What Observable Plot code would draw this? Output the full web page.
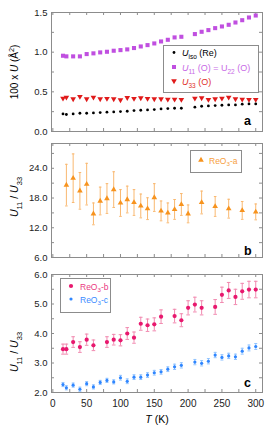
<!DOCTYPE html>
<html><head><meta charset="utf-8">
<script src="https://cdn.jsdelivr.net/npm/d3@7"></script>
<script src="https://cdn.jsdelivr.net/npm/@observablehq/plot@0.6"></script>
<style>
body{margin:0;background:#fff;}
#chart{position:relative;width:268px;height:428px;overflow:hidden;background:#fff}
#chart svg{position:absolute;left:0}
</style></head><body><div id="chart"></div>
<script>
// ---- Panel a: 100 x U (Å²) ----
const T_a = [15,20,30,40,50,60,70,80,90,100,110,120,130,140,150,160,170,180,190,210,220,230,240,250,260,270,280,290,300];
const Uiso = [0.222,0.214,0.222,0.230,0.230,0.234,0.238,0.243,0.247,0.251,0.255,0.264,0.268,0.272,0.276,0.285,0.289,0.293,0.293,0.306,0.318,0.323,0.327,0.331,0.335,0.335,0.344,0.348,0.348];
const U11 = [0.955,0.947,0.947,0.947,0.976,0.985,0.997,1.005,1.018,1.026,1.035,1.052,1.072,1.089,1.110,1.135,1.156,1.186,1.194,1.228,1.257,1.278,1.303,1.324,1.345,1.374,1.403,1.437,1.462];
const U33 = [0.419,0.431,0.410,0.440,0.410,0.431,0.410,0.415,0.410,0.398,0.427,0.415,0.423,0.415,0.410,0.410,0.406,0.406,0.402,0.419,0.423,0.402,0.410,0.419,0.431,0.410,0.406,0.402,0.402];

// ---- Panel b: ReO3-a ----
const T_b = [20,30,40,50,60,70,80,90,100,110,120,130,140,150,160,170,180,190,200,220,240,260,280,300];
const ratioA = [20.6,22.0,19.45,20.8,14.8,17.4,17.9,19.7,17.0,17.7,17.1,16.4,15.85,18.1,15.4,15.0,15.7,16.7,14.8,17.1,16.3,15.85,15.5,15.2];
const errA = [4.2,4.9,3.7,4.2,2.2,2.8,3.0,3.6,2.7,2.7,2.6,2.4,2.2,2.8,2.0,2.0,2.0,2.2,1.8,2.3,2.0,1.9,1.8,1.6];

// ---- Panel c: ReO3-b and ReO3-c ----
const T_cb = [15,20,30,40,50,60,80,90,100,110,120,130,140,150,160,180,190,200,210,220,240,250,260,270,280,290,300];
const ratioB = [3.47,3.47,3.71,3.54,3.79,3.60,3.71,3.79,3.77,4.00,3.86,4.33,4.28,4.31,4.57,4.59,4.45,4.87,4.98,4.87,4.90,5.31,5.46,5.24,5.43,5.49,5.49];
const errB = [0.17,0.17,0.18,0.18,0.19,0.18,0.18,0.18,0.19,0.20,0.19,0.22,0.21,0.22,0.23,0.23,0.22,0.24,0.25,0.24,0.25,0.26,0.27,0.26,0.27,0.28,0.28];
const T_cc = [15,20,30,40,50,60,70,80,90,100,110,120,130,140,150,160,170,180,190,210,220,230,240,250,260,270,280,290,300];
const ratioC = [2.27,2.16,2.25,2.11,2.30,2.19,2.34,2.41,2.36,2.50,2.38,2.52,2.52,2.59,2.67,2.70,2.79,2.87,2.92,3.03,2.99,3.06,3.27,3.19,3.24,3.21,3.40,3.51,3.56];
const errC = [0.07,0.07,0.07,0.07,0.07,0.07,0.07,0.07,0.07,0.08,0.08,0.08,0.08,0.08,0.08,0.08,0.08,0.09,0.09,0.09,0.09,0.09,0.09,0.09,0.09,0.09,0.10,0.10,0.10];

const xTickLabels = [0,50,100,150,200,250,300];

const FONT = '"Liberation Sans", Arial, Helvetica, sans-serif';
const W = 268, ML = 51, MR = 6;
const X_DOMAIN = [-2, 310];
const GRAY = "#8c8c8c";
const C = {purple:"#c04fe0", red:"#e01a1a", orange:"#f7931e", orangeBar:"#f9b870",
           pink:"#e8186e", pinkBar:"#f18ab0", blue:"#2f86ff", blueBar:"#92c4ff"};

const dataA = T_a.map((T,i)=>({T, uiso:Uiso[i], u11:U11[i], u33:U33[i]}));
const dataB = T_b.map((T,i)=>({T, v:ratioA[i], e:errA[i]}));
const dataCb = T_cb.map((T,i)=>({T, v:ratioB[i], e:errB[i]}));
const dataCc = T_cc.map((T,i)=>({T, v:ratioC[i], e:errC[i]}));

const cap = {draw(ctx, size){const r=Math.sqrt(size/Math.PI); ctx.moveTo(-r,0); ctx.lineTo(r,0);}};

function frameMarks(yTicks, plotH){
  const plotW = W-ML-MR;
  const xt = d3.range(0,301,25);
  return [
    Plot.tickX(xt,{x:d=>d, stroke:GRAY, insetBottom:plotH-3}),
    Plot.tickX(xt,{x:d=>d, stroke:GRAY, insetTop:plotH-3}),
    Plot.tickY(yTicks,{y:d=>d, stroke:GRAY, insetRight:plotW-3}),
    Plot.tickY(yTicks,{y:d=>d, stroke:GRAY, insetLeft:plotW-3}),
    Plot.frame({stroke:GRAY})
  ];
}
function errMarks(data, bar, capR){
  return [
    Plot.ruleX(data,{x:"T", y1:d=>d.v-d.e, y2:d=>d.v+d.e, stroke:bar, strokeWidth:1}),
    Plot.dot(data,{x:"T", y:d=>d.v+d.e, symbol:cap, r:capR, stroke:bar, fill:"none", strokeWidth:1}),
    Plot.dot(data,{x:"T", y:d=>d.v-d.e, symbol:cap, r:capR, stroke:bar, fill:"none", strokeWidth:1})
  ];
}
const style = {fontFamily:FONT, fontSize:"9.5px", color:"#222", background:"transparent", overflow:"visible"};

const chart = document.getElementById("chart");
function place(svg, top){ svg.style.top = top+"px"; chart.appendChild(svg); }

// Panel a
const hA=136, mtA=12, mbA=5;
place(Plot.plot({
  width:W, height:hA, marginTop:mtA, marginBottom:mbA, marginLeft:ML, marginRight:MR,
  x:{domain:X_DOMAIN, axis:null}, y:{domain:[0,1.5]}, style,
  marks:[
    ...frameMarks([0,0.25,0.5,0.75,1,1.25,1.5], hA-mtA-mbA),
    Plot.axisY({ticks:[0,0.5,1,1.5], tickSize:0, tickPadding:4, tickFormat:d3.format(".1f"), label:null}),
    Plot.dot(dataA,{x:"T", y:"u11", symbol:"square", r:2.3, fill:C.purple}),
    Plot.dot(dataA,{x:"T", y:"u33", symbol:"triangle", rotate:180, r:2.1, fill:C.red}),
    Plot.dot(dataA,{x:"T", y:"uiso", r:1.4, fill:"#000"})
  ]
}), 0);

// Panel b
const hB=126, mtB=7, mbB=5;
place(Plot.plot({
  width:W, height:hB, marginTop:mtB, marginBottom:mbB, marginLeft:ML, marginRight:MR,
  x:{domain:X_DOMAIN, axis:null}, y:{domain:[6,29]}, style,
  marks:[
    ...frameMarks([6,9,12,15,18,21,24,27], hB-mtB-mbB),
    Plot.axisY({ticks:[6,12,18,24], tickSize:0, tickPadding:4, tickFormat:d3.format(".1f"), label:null}),
    ...errMarks(dataB, C.orangeBar, 1.3),
    Plot.dot(dataB,{x:"T", y:"v", symbol:"triangle", r:2.1, fill:C.orange})
  ]
}), 136);

// Panel c
const hC=166, mtC=12, mbC=36;
place(Plot.plot({
  width:W, height:hC, marginTop:mtC, marginBottom:mbC, marginLeft:ML, marginRight:MR,
  x:{domain:X_DOMAIN}, y:{domain:[2,6]}, style,
  marks:[
    ...frameMarks([2,2.5,3,3.5,4,4.5,5,5.5,6], hC-mtC-mbC),
    Plot.axisY({ticks:[2,3,4,5,6], tickSize:0, tickPadding:4, tickFormat:d3.format(".1f"), label:null}),
    Plot.axisX({ticks:xTickLabels, tickSize:0, tickPadding:7, tickFormat:d3.format("d"), label:null, fontSize:"10px"}),
    ...errMarks(dataCb, C.pinkBar, 1.8),
    ...errMarks(dataCc, C.blueBar, 1.5),
    Plot.dot(dataCb,{x:"T", y:"v", r:2.1, fill:C.pink}),
    Plot.dot(dataCc,{x:"T", y:"v", r:1.6, fill:C.blue})
  ]
}), 262);

// Overlay: titles, panel letters, legends
const ov = d3.select(chart).append("svg").attr("width",W).attr("height",428)
  .style("top","0px").style("font-family",FONT).style("pointer-events","none");

function rich(x,y,parts,{size=9,color="#000",anchor="start",rotate=0,weight="normal"}={}){
  const t = ov.append("text").attr("x",x).attr("y",y).attr("font-size",size).attr("fill",color)
    .attr("text-anchor",anchor).attr("font-weight",weight);
  if (rotate) t.attr("transform",`rotate(${rotate},${x},${y})`);
  let off = 0;
  for (const p of parts){
    const target = p.sub ? size*0.35 : p.sup ? -size*0.42 : 0;
    const s = t.append("tspan").text(p.t);
    if (target !== off){ s.attr("dy", target-off); off = target; }
    if (p.sub || p.sup) s.attr("font-size", size*0.72);
    if (p.i) s.attr("font-style","italic");
  }
  return t;
}
function sym(type, x, y, size, fill, rot=0){
  ov.append("path").attr("d", d3.symbol(type, size)()).attr("fill", fill)
    .attr("transform", `translate(${x},${y}) rotate(${rot})`);
}
function box(x,y,w,h){
  ov.append("rect").attr("x",x+0.5).attr("y",y+0.5).attr("width",w).attr("height",h)
    .attr("fill","#fff").attr("stroke",GRAY).attr("stroke-width",1);
}

// axis titles
rich(18,72,[{t:"100 x "},{t:"U",i:true},{t:" (Å"},{t:"2",sup:true},{t:")"}],{size:10,anchor:"middle",rotate:-90});
rich(18,197,[{t:"U",i:true},{t:"11",sub:true},{t:" / "},{t:"U",i:true},{t:"33",sub:true}],{size:10.5,anchor:"middle",rotate:-90});
rich(18,352,[{t:"U",i:true},{t:"11",sub:true},{t:" / "},{t:"U",i:true},{t:"33",sub:true}],{size:10.5,anchor:"middle",rotate:-90});
rich(157,423,[{t:"T",i:true},{t:" (K)"}],{size:10.5,anchor:"middle"});

// panel letters
rich(244,125,[{t:"a"}],{size:12.5,weight:"bold"});
rich(244,255,[{t:"b"}],{size:12.5,weight:"bold"});
rich(244,387,[{t:"c"}],{size:12.5,weight:"bold"});

// legend a
box(163,45,95,47);
sym(d3.symbolCircle,174,52.5,6,"#000");
rich(182,56,[{t:"U",i:true},{t:"iso",sub:true},{t:" (Re)"}],{size:9});
sym(d3.symbolSquare,174,67,16,C.purple);
rich(182,70.5,[{t:"U",i:true},{t:"11",sub:true},{t:" (O) = U"},{t:"22",sub:true},{t:" (O)"}],{size:9,color:"#c86ae6"});
sym(d3.symbolTriangle,174,81,14,C.red,180);
rich(182,85,[{t:"U",i:true},{t:"33",sub:true},{t:" (O)"}],{size:9,color:"#e0302a"});

// legend b
box(190,150,51,22);
sym(d3.symbolTriangle,201,160,14,C.orange);
rich(209,163.5,[{t:"ReO"},{t:"3",sub:true},{t:"-a"}],{size:8.5,color:"#f7a040"});

// legend c
box(60,278,50,34);
sym(d3.symbolCircle,71,286,14,C.pink);
rich(80,289.5,[{t:"ReO"},{t:"3",sub:true},{t:"-b"}],{size:8.5,color:"#ea3a82"});
sym(d3.symbolCircle,71,299,8,C.blue);
rich(80,302.5,[{t:"ReO"},{t:"3",sub:true},{t:"-c"}],{size:8.5,color:"#3a8cff"});
</script>
</body></html>
